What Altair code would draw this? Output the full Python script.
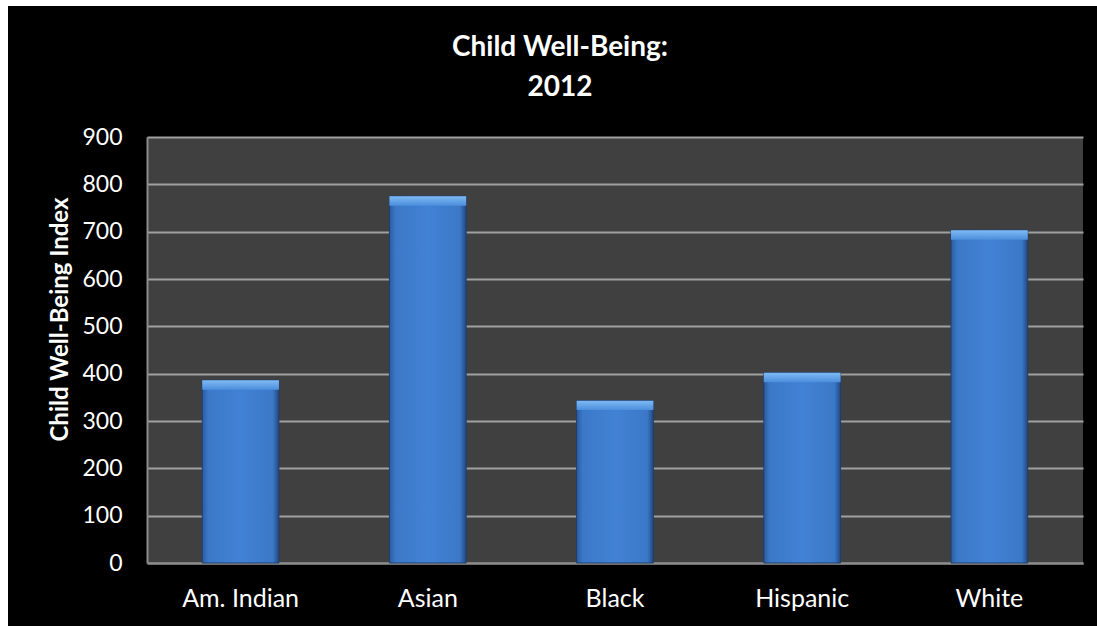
import altair as alt
import pandas as pd

groups = ["Am. Indian", "Asian", "Black", "Hispanic", "White"]
index_values = [386, 775, 343, 402, 703]
y_ticks = [0, 100, 200, 300, 400, 500, 600, 700, 800, 900]
title_lines = ["Child Well-Being:", "2012"]

df = pd.DataFrame({"group": groups, "value": index_values})

FONT = "Lato"
W, H = 936, 426

xscale = alt.Scale(domain=groups, paddingInner=0.59, paddingOuter=0.295)
yscale = alt.Scale(domain=[0, 900], nice=False)

x_enc = alt.X("group:N", scale=xscale, sort=groups,
              axis=alt.Axis(title=None, labelAngle=0, labelColor="white", labelFont=FONT,
                            labelFontSize=25, labelPadding=23, ticks=False,
                            domainColor="#8c8c8c", domainWidth=2, grid=False))
y_enc = alt.Y("value:Q", scale=yscale,
              axis=alt.Axis(title="Child Well-Being Index", values=y_ticks, labelColor="white",
                            labelFont=FONT, labelFontSize=23, labelPadding=25, ticks=False,
                            domainColor="#8c8c8c", domainWidth=2, gridColor="#a0a0a0",
                            gridWidth=2, titleColor="white", titleFont=FONT, titleFontSize=24,
                            titleFontWeight="bold", titlePadding=9, titleY=182))

main_grad = alt.Gradient(gradient="linear", x1=0, x2=1, y1=0, y2=0, stops=[
    alt.GradientStop(color="#2c5c9e", offset=0),
    alt.GradientStop(color="#3b78c8", offset=0.08),
    alt.GradientStop(color="#4282d4", offset=0.5),
    alt.GradientStop(color="#3b78c8", offset=0.92),
    alt.GradientStop(color="#23487e", offset=1),
])
top_grad = alt.Gradient(gradient="linear", x1=0, x2=0, y1=0, y2=1, stops=[
    alt.GradientStop(color="#7fbaf5", offset=0),
    alt.GradientStop(color="#4c8edc", offset=1),
])

bars = alt.Chart(df).mark_bar(color=main_grad, stroke="#1f3e6e", strokeWidth=1).encode(
    x=x_enc, y=y_enc)

bevel = alt.Chart(df).transform_calculate(top2="datum.value - 20").mark_bar(
    color=top_grad).encode(
    x=alt.X("group:N", scale=xscale, sort=groups),
    y=alt.Y("value:Q", scale=yscale),
    y2="top2:Q")

one = pd.DataFrame({"k": [0]})
strip_top = alt.Chart(one).mark_rect(color="white").encode(
    x=alt.value(-147), x2=alt.value(950), y=alt.value(-137), y2=alt.value(-131))
strip_left = alt.Chart(one).mark_rect(color="white").encode(
    x=alt.value(-147), x2=alt.value(-139), y=alt.value(-137), y2=alt.value(489))

title1 = alt.Chart(one).mark_text(color="white", font=FONT, fontSize=28, fontWeight="bold",
                                  align="center", baseline="alphabetic").encode(
    x=alt.value(413), y=alt.value(-81), text=alt.value(title_lines[0]))
title2 = alt.Chart(one).mark_text(color="white", font=FONT, fontSize=28, fontWeight="bold",
                                  align="center", baseline="alphabetic").encode(
    x=alt.value(413), y=alt.value(-41), text=alt.value(title_lines[1]))

chart = alt.layer(bars, bevel, strip_top, strip_left, title1, title2).properties(
    width=W, height=H,
    autosize=alt.AutoSizeParams(type="none"),
    padding={"left": 147, "top": 137, "right": 14, "bottom": 63},
    background="black",
).configure_view(fill="#404040", stroke=None)

chart.save("out.html", embed_options={"renderer": "svg", "actions": False})
